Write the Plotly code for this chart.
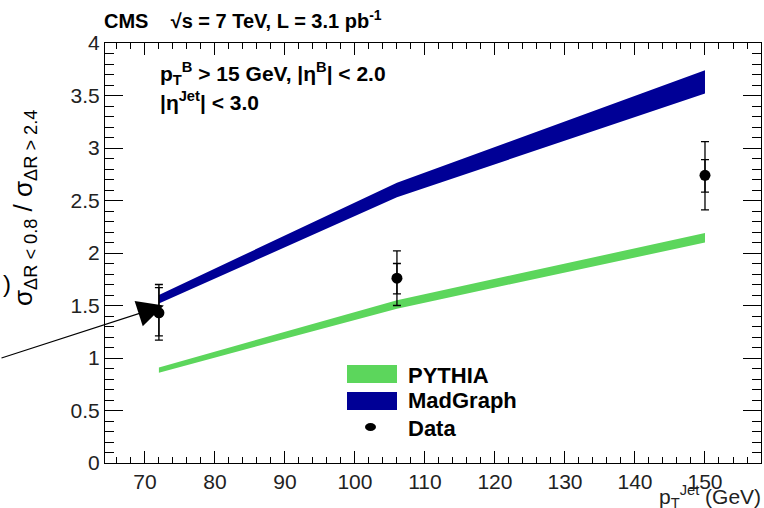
import plotly.graph_objects as go

# ---- data ----
band_x = [72, 106, 150]
pythia_lo = [0.86, 1.47, 2.10]
pythia_hi = [0.91, 1.55, 2.19]
madgraph_lo = [1.52, 2.53, 3.52]
madgraph_hi = [1.60, 2.67, 3.74]

data_x = [72, 106, 150]
data_y = [1.43, 1.76, 2.74]
tot_up = [0.27, 0.26, 0.32]
tot_dn = [0.26, 0.26, 0.33]
stat_up = [0.24, 0.14, 0.15]
stat_dn = [0.22, 0.15, 0.16]

x_ticks = [70, 80, 90, 100, 110, 120, 130, 140, 150]
y_ticks = [0, 0.5, 1, 1.5, 2, 2.5, 3, 3.5, 4]
y_ticklabels = ["0", "0.5", "1", "1.5", "2", "2.5", "3", "3.5", "4"]

GREEN = "rgb(92,214,92)"
NAVY = "rgb(0,0,150)"
FONT = "Liberation Sans, Arial, sans-serif"

fig = go.Figure()

def band(lo, hi, color):
    xs = list(band_x) + list(reversed(band_x))
    ys = list(hi) + list(reversed(lo))
    return go.Scatter(x=xs, y=ys, fill="toself", fillcolor=color, mode="lines",
                      line=dict(width=0, color=color), hoverinfo="skip", showlegend=False)

fig.add_trace(band(pythia_lo, pythia_hi, GREEN))
fig.add_trace(band(madgraph_lo, madgraph_hi, NAVY))

# total errors
fig.add_trace(go.Scatter(x=data_x, y=data_y, mode="markers",
                         marker=dict(size=1, color="black", opacity=0),
                         error_y=dict(type="data", array=tot_up, arrayminus=tot_dn,
                                      color="black", thickness=1.3, width=4),
                         showlegend=False))
# stat errors
fig.add_trace(go.Scatter(x=data_x, y=data_y, mode="markers",
                         marker=dict(size=11, color="black", symbol="circle"),
                         error_y=dict(type="data", array=stat_up, arrayminus=stat_dn,
                                      color="black", thickness=1.3, width=4),
                         showlegend=False))

axis_common = dict(showline=True, linecolor="black", linewidth=1, mirror="ticks",
                   ticks="inside", tickcolor="black", showgrid=False, zeroline=False,
                   tickfont=dict(family=FONT, size=21, color="#222"))

fig.update_xaxes(range=[64.3, 158], tickvals=x_ticks, ticklen=12,
                 minor=dict(dtick=2, ticklen=6, ticks="inside", tickcolor="black", showgrid=False),
                 **axis_common)
fig.update_yaxes(range=[0, 4], tickvals=y_ticks, ticktext=y_ticklabels, ticklen=18,
                 minor=dict(dtick=0.1, ticklen=9, ticks="inside", tickcolor="black", showgrid=False),
                 **axis_common)

def px_x(p):
    return (p - 105) / 656

def px_y(p):
    return (463 - p) / 420

ann = []
# top title
ann.append(dict(xref="paper", yref="paper", x=px_x(102), y=px_y(20), xanchor="left", yanchor="middle",
                text="<b>CMS    √s = 7 TeV, L = 3.1 pb<sup>-1</sup></b>", showarrow=False,
                font=dict(family=FONT, size=20, color="black")))
# inner text
ann.append(dict(xref="paper", yref="paper", x=px_x(158), y=px_y(74), xanchor="left", yanchor="middle",
                text="<b>p<sub>T</sub><sup>B</sup> > 15 GeV, |η<sup>B</sup>| < 2.0</b>", showarrow=False,
                font=dict(family=FONT, size=21, color="black")))
ann.append(dict(xref="paper", yref="paper", x=px_x(158), y=px_y(101), xanchor="left", yanchor="middle",
                text="<b>|η<sup>Jet</sup>| < 3.0</b>", showarrow=False,
                font=dict(family=FONT, size=21, color="black")))
# y title
ann.append(dict(xref="paper", yref="paper", x=px_x(24), y=px_y(208), xanchor="center", yanchor="middle",
                textangle=-90, text="σ<sub>ΔR < 0.8</sub> / σ<sub>ΔR > 2.4</sub>", showarrow=False,
                font=dict(family=FONT, size=26, color="black")))
# x title
ann.append(dict(xref="paper", yref="paper", x=px_x(763), y=px_y(496), xanchor="right", yanchor="middle",
                text="p<sub>T</sub><sup>Jet</sup> (GeV)", showarrow=False,
                font=dict(family=FONT, size=21, color="#222")))
# legend texts
for label, yp in [("PYTHIA", 375), ("MadGraph", 400), ("Data", 428)]:
    ann.append(dict(xref="paper", yref="paper", x=px_x(406), y=px_y(yp), xanchor="left", yanchor="middle",
                    text="<b>" + label + "</b>", showarrow=False,
                    font=dict(family=FONT, size=22, color="black")))
# stray bracket
ann.append(dict(xref="paper", yref="paper", x=px_x(1), y=px_y(283), xanchor="left", yanchor="middle",
                text=")", showarrow=False, font=dict(family=FONT, size=24, color="black")))
# arrow
ann.append(dict(xref="x", yref="y", x=72.7, y=1.50, ax=-200, ay=53, axref="pixel", ayref="pixel",
                text="", showarrow=True, arrowhead=2, arrowsize=4.8, arrowwidth=1.1, arrowcolor="black"))

shapes = []
shapes.append(dict(type="rect", xref="paper", yref="paper", x0=px_x(347), x1=px_x(397),
                   y0=px_y(383), y1=px_y(365), fillcolor=GREEN, line=dict(width=0)))
shapes.append(dict(type="rect", xref="paper", yref="paper", x0=px_x(347), x1=px_x(397),
                   y0=px_y(410), y1=px_y(392), fillcolor=NAVY, line=dict(width=0)))
shapes.append(dict(type="circle", xref="paper", yref="paper", x0=px_x(365), x1=px_x(376),
                   y0=px_y(431), y1=px_y(423), fillcolor="black", line=dict(width=0)))

fig.update_layout(width=764, height=508, margin=dict(l=105, r=3, t=43, b=45),
                  plot_bgcolor="white", paper_bgcolor="white", showlegend=False,
                  annotations=ann, shapes=shapes)

fig.write_html("out.html")
